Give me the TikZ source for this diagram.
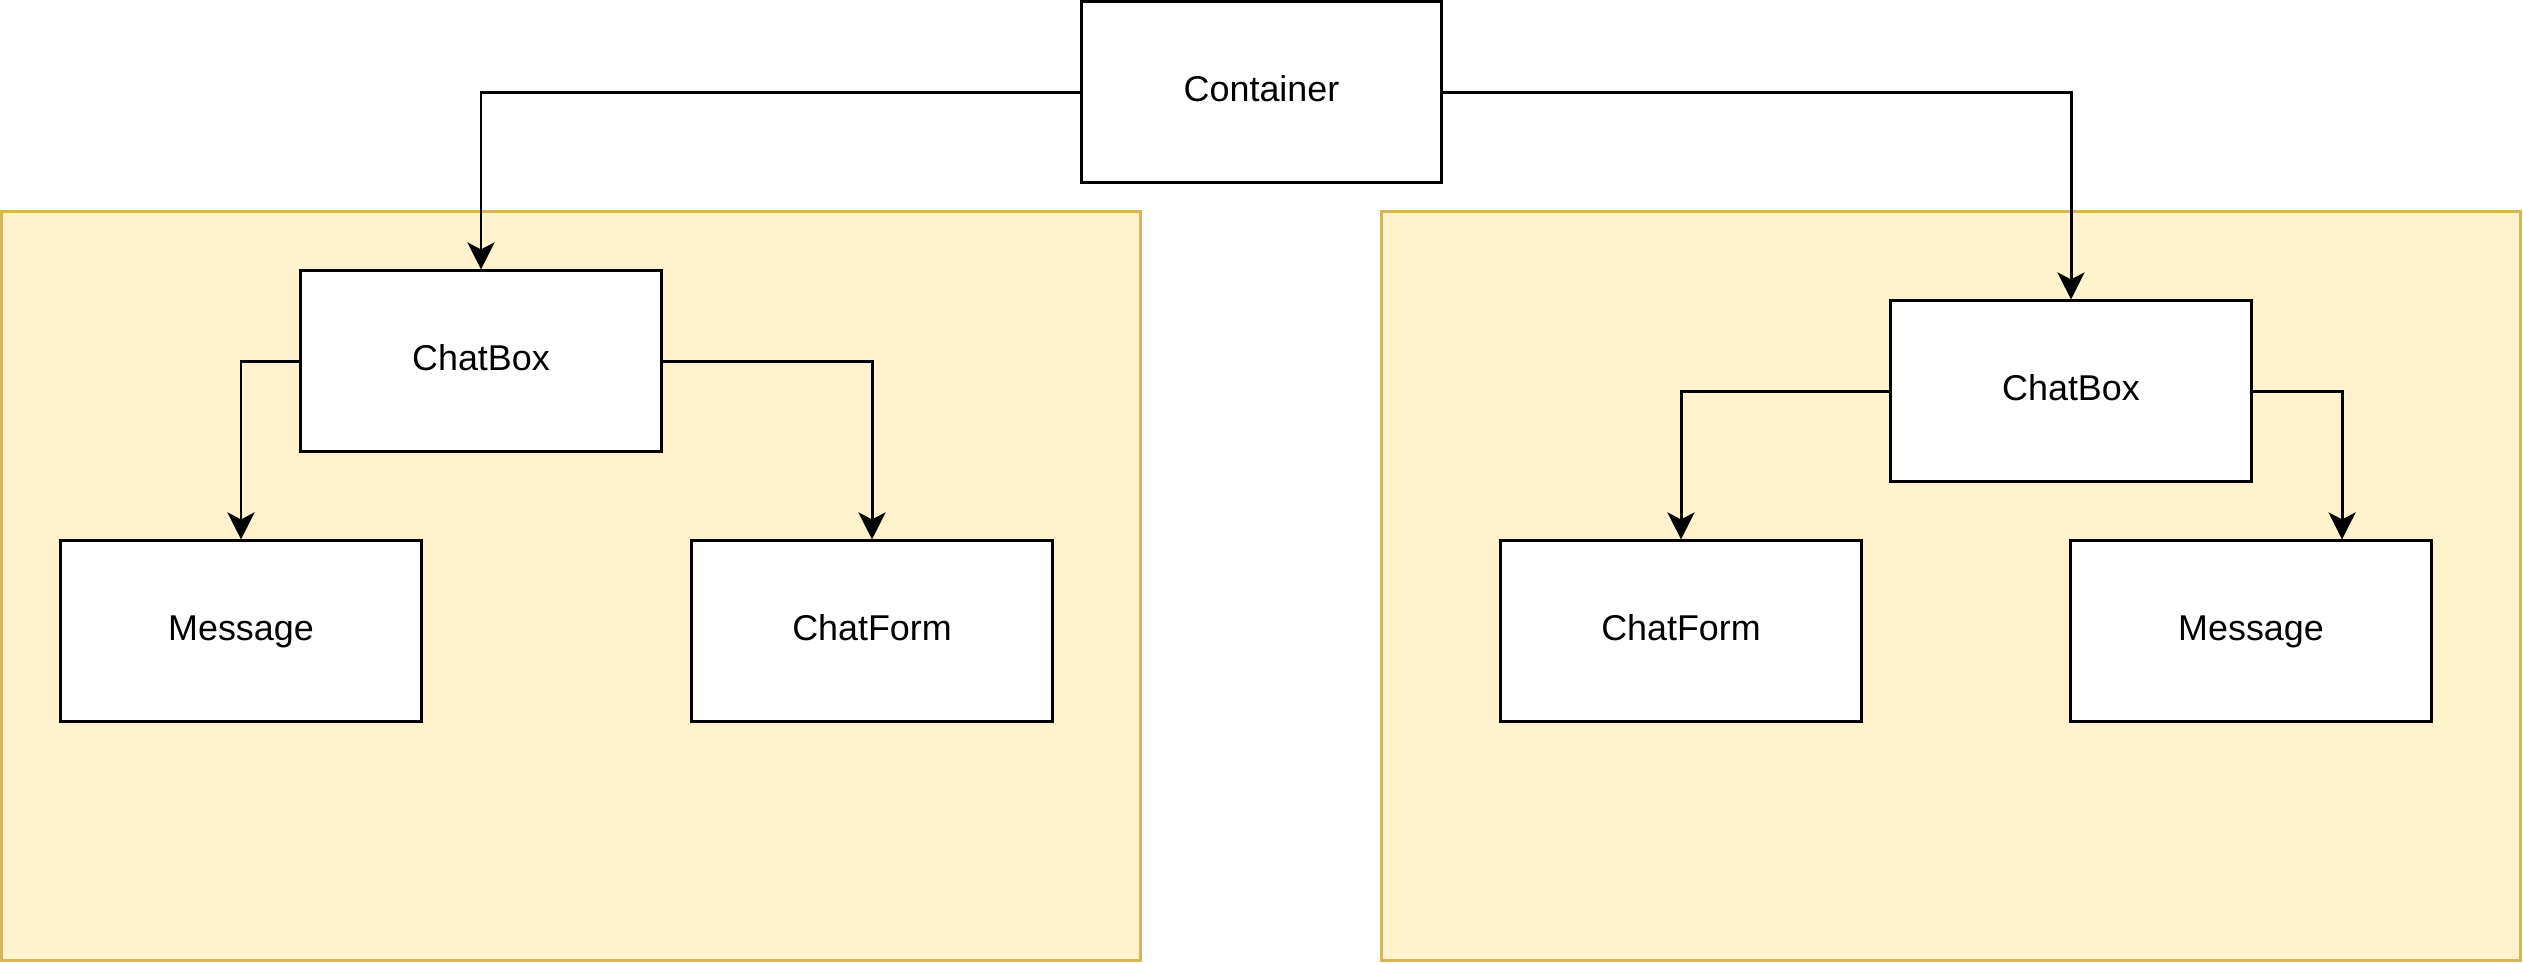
\documentclass[tikz,border=0pt]{standalone}
\usepackage{fontspec}
\setmainfont{Liberation Sans}
\usetikzlibrary{arrows.meta}
\definecolor{panelfill}{HTML}{FFF2CC}
\definecolor{panelline}{HTML}{D6B656}
\begin{document}
\begin{tikzpicture}[x=0.01cm,y=-0.01cm,
  box/.style={draw=black,fill=white,line width=0.85pt,minimum width=3.6cm,minimum height=1.8cm,inner sep=0pt,text height=0.74em,text depth=0.22em,font=\fontsize{10.2}{12}\selectfont},
  panel/.style={draw=panelline,fill=panelfill,line width=0.8pt,inner sep=0pt},
  conn/.style={draw=black,line width=0.85pt,-{Stealth[length=0.27cm,width=0.27cm,inset=0.07cm]}}]
\useasboundingbox (0,0) rectangle (2523,963);
\node[panel,minimum width=11.39cm,minimum height=7.49cm] (panelL) at (571,586) {};
\node[panel,minimum width=11.39cm,minimum height=7.49cm] (panelR) at (1951,586) {};
\node[box] (cont) at (1261.5,92) {Container};
\node[box] (cbL) at (481,361) {ChatBox};
\node[box] (msgL) at (241,631) {Message};
\node[box] (cfL) at (872,631) {ChatForm};
\node[box] (cbR) at (2071,391) {ChatBox};
\node[box] (cfR) at (1681,631) {ChatForm};
\node[box] (msgR) at (2251,631) {Message};
\coordinate (msgRin) at ([xshift=0.91cm]msgR.north);
\draw[conn] (cont.west) -| (cbL.north);
\draw[conn] (cont.east) -| (cbR.north);
\draw[conn] (cbL.west) -| (msgL.north);
\draw[conn] (cbL.east) -| (cfL.north);
\draw[conn] (cbR.west) -| (cfR.north);
\draw[conn] (cbR.east) -| (msgRin);
\end{tikzpicture}
\end{document}
